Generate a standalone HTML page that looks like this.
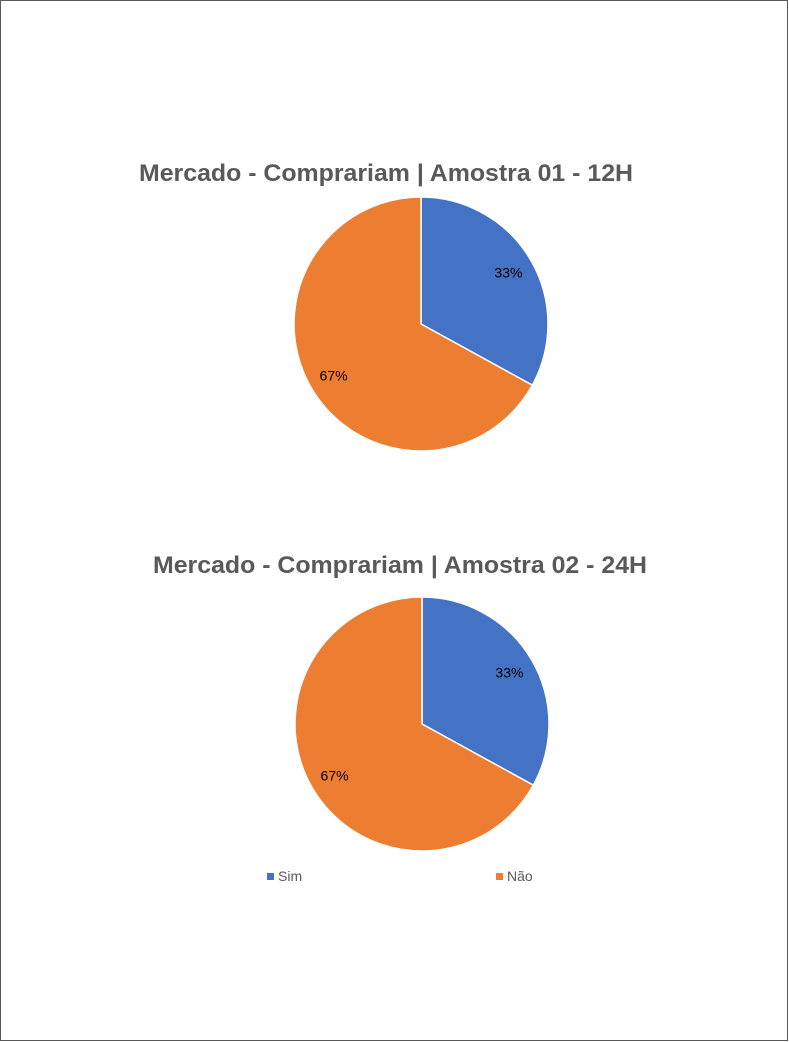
<!DOCTYPE html>
<html><head><meta charset="utf-8"><style>
html,body{margin:0;padding:0;background:#fff}
svg{display:block;font-family:"Liberation Sans",sans-serif}
</style></head><body>
<svg width="789" height="1042" viewBox="0 0 789 1042">
<rect x="0.5" y="0.5" width="787" height="1040" fill="#fff" stroke="#595959"/>
<g id="charts"></g>
<g>
<rect x="267" y="873" width="7" height="7" fill="#4472c4"/>
<text x="278" y="881" font-size="14" fill="#595959">Sim</text>
<rect x="496" y="873" width="7" height="7" fill="#ed7d31"/>
<text x="507" y="881" font-size="14" fill="#595959">Não</text>
</g>
</svg>
<script>
const categories = ["Sim", "Não"];
const sample1Values = [33, 67];
const sample2Values = [33, 67];
const titles = ["Mercado - Comprariam  | Amostra 01 - 12H", "Mercado - Comprariam  | Amostra 02 - 24H"];
const colors = ["#4472c4", "#ed7d31"];
const charts = [
  {values: sample1Values, cx: 421, cy: 324, r: 127, tx: 386, ty: 181, tw: 494},
  {values: sample2Values, cx: 422, cy: 724, r: 127, tx: 400, ty: 573, tw: 494}
];
const NS = "http://www.w3.org/2000/svg";
const root = document.getElementById("charts");
charts.forEach((c, ci) => {
  const g = document.createElementNS(NS, "g");
  
  
  root.appendChild(g);
  const t = document.createElementNS(NS, "text");
  
  
  t.setAttribute("x", c.tx); t.setAttribute("y", c.ty);
  t.setAttribute("text-anchor", "middle"); t.setAttribute("font-size", "24");
  t.setAttribute("font-weight", "bold"); t.setAttribute("fill", "#595959");
  t.setAttribute("textLength", c.tw); t.setAttribute("lengthAdjust", "spacingAndGlyphs");
  t.setAttribute("xml:space", "preserve");
  t.textContent = titles[ci];
  g.appendChild(t);
  const total = c.values.reduce((a, b) => a + b, 0);
  let a0 = 0;
  c.values.forEach((v, i) => {
    const a1 = a0 + v / total * 2 * Math.PI;
    const p = (a) => [c.cx + c.r * Math.sin(a), c.cy - c.r * Math.cos(a)];
    const [x0, y0] = p(a0), [x1, y1] = p(a1);
    const path = document.createElementNS(NS, "path");
    
    
    path.setAttribute("d", `M${c.cx},${c.cy}L${x0},${y0}A${c.r},${c.r} 0 ${(a1 - a0) > Math.PI ? 1 : 0} 1 ${x1},${y1}Z`);
    path.setAttribute("fill", colors[i]); path.setAttribute("stroke", "#fff"); path.setAttribute("stroke-width", "1.5");
    g.appendChild(path);
    const am = (a0 + a1) / 2, lr = c.r * 0.8;
    const lbl = document.createElementNS(NS, "text");
    
    
    lbl.setAttribute("x", c.cx + lr * Math.sin(am)); lbl.setAttribute("y", c.cy - lr * Math.cos(am) + 5);
    lbl.setAttribute("text-anchor", "middle"); lbl.setAttribute("font-size", "14"); lbl.setAttribute("fill", "#000");
    lbl.textContent = Math.round(v / total * 100) + "%";
    g.appendChild(lbl);
    a0 = a1;
  });
});
</script>
</body></html>
